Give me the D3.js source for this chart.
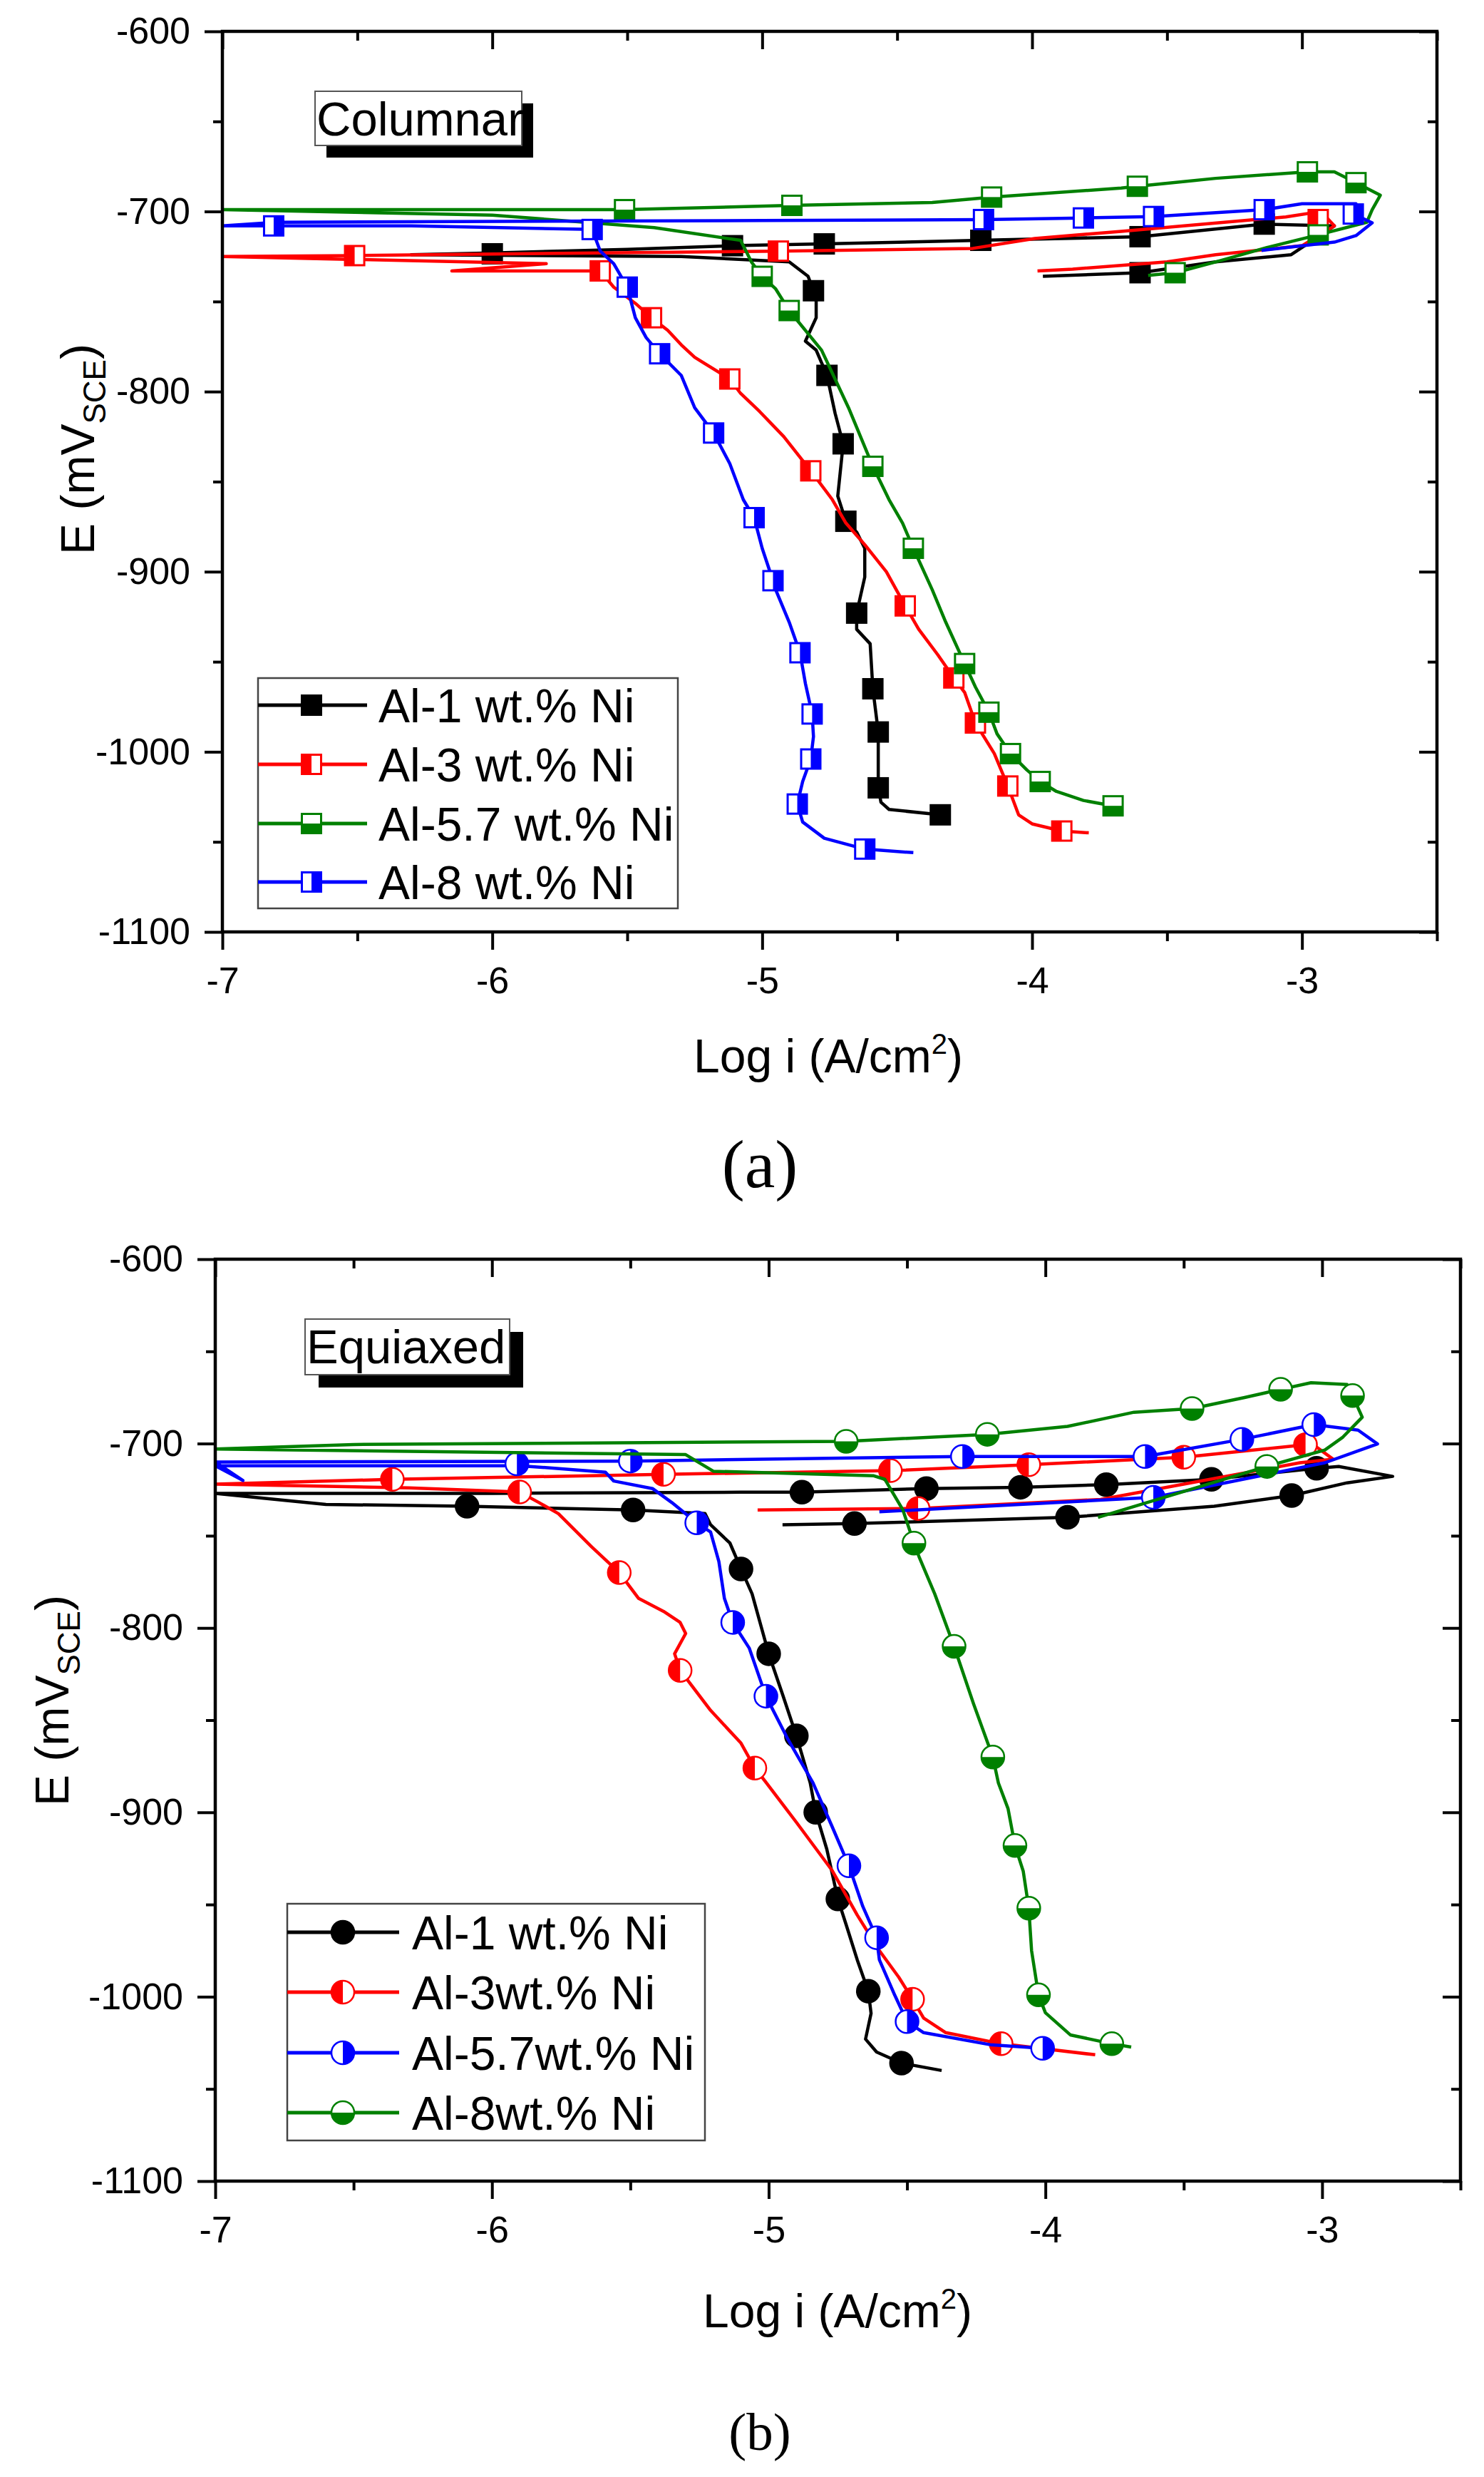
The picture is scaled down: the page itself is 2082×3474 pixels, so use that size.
<!DOCTYPE html>
<html>
<head>
<meta charset="utf-8">
<script src="https://cdn.jsdelivr.net/npm/d3@7"></script>
<style>
  body { margin: 0; background: #fff; }
  svg text { font-family: "Liberation Sans", Arial, sans-serif; fill: #000; }
</style>
</head>
<body>
<div id="fig"></div>
<script>
// ---- shared axis values ----
const xTicks = [-7, -6, -5, -4, -3]
const xMinor = [-6.5, -5.5, -4.5, -3.5, -2.5]
const yTicks = [-600, -700, -800, -900, -1000, -1100]
const yMinor = [-650, -750, -850, -950, -1050]

// ---- (a) Columnar : [log i, E] ----
const colNames = ["Al-1 wt.% Ni", "Al-3 wt.% Ni", "Al-5.7 wt.% Ni", "Al-8 wt.% Ni"]
const colColors = ["#000000", "#ff0000", "#008000", "#0000ff"]
const colFills = ["full", "left", "bottom", "right"]

const colAl1 = [[-4.34,-1035],[-4.53,-1032],[-4.56,-1028],[-4.57,-1020],[-4.57,-1005],[-4.57,-989],[-4.59,-965],[-4.60,-940],[-4.65,-932],[-4.65,-923],[-4.62,-903],[-4.62,-887],[-4.65,-878],[-4.69,-872],[-4.72,-858],[-4.70,-829],[-4.73,-812],[-4.76,-791],[-4.80,-777],[-4.84,-772],[-4.80,-759],[-4.80,-750],[-4.81,-744],[-4.83,-736],[-4.90,-728],[-5.3,-725],[-6.3,-724],[-6.0,-723],[-5.5,-721],[-5.11,-719],[-4.77,-718],[-4.19,-716],[-3.60,-714],[-3.14,-707],[-2.88,-708],[-3.04,-724],[-3.32,-728],[-3.60,-734],[-3.96,-736]]
const colAl1Marks = [[-4.34,-1035],[-4.57,-1020],[-4.57,-989],[-4.59,-965],[-4.65,-923],[-4.69,-872],[-4.70,-829],[-4.76,-791],[-4.81,-744],[-5.11,-719],[-6.0,-723.5],[-4.77,-718],[-4.19,-716],[-3.60,-714],[-3.14,-707],[-3.60,-734]]

const colAl3 = [[-3.79,-1045],[-3.89,-1044],[-4.0,-1040],[-4.05,-1035],[-4.08,-1023],[-4.09,-1019],[-4.14,-1001],[-4.21,-984],[-4.25,-967],[-4.29,-959],[-4.35,-946],[-4.42,-932],[-4.47,-919],[-4.54,-900],[-4.62,-885],[-4.69,-873],[-4.74,-860],[-4.82,-844],[-4.92,-825],[-5.01,-811],[-5.08,-801],[-5.12,-793],[-5.25,-781],[-5.30,-774],[-5.35,-766],[-5.41,-759],[-5.47,-751],[-5.55,-742],[-5.60,-733],[-6.15,-733],[-5.8,-729],[-7.0,-725],[-6.51,-724.5],[-5.6,-723],[-4.94,-722],[-4.22,-720.5],[-3.99,-715],[-3.67,-711],[-3.06,-703],[-2.93,-700],[-2.88,-708],[-3.0,-719],[-3.32,-724],[-3.50,-728],[-3.85,-732],[-3.98,-733]]
const colAl3Marks = [[-3.89,-1044],[-4.09,-1019],[-4.21,-984],[-4.29,-959],[-4.47,-919],[-4.82,-844],[-5.12,-793],[-5.41,-759],[-5.60,-733],[-6.51,-724.5],[-4.94,-722],[-2.94,-704.5]]

const colAl57 = [[-3.70,-1030],[-3.81,-1027],[-3.91,-1022],[-3.97,-1016.5],[-4.02,-1010],[-4.08,-1001],[-4.13,-990],[-4.16,-978],[-4.21,-964],[-4.25,-951],[-4.32,-928],[-4.37,-910],[-4.44,-887],[-4.48,-873],[-4.53,-860],[-4.59,-841.5],[-4.68,-809],[-4.78,-777],[-4.90,-755],[-4.95,-743],[-5.0,-736],[-5.04,-728],[-5.08,-716],[-5.40,-709],[-6.0,-702],[-7.0,-699],[-5.51,-699],[-4.89,-696.6],[-4.37,-695],[-4.15,-692],[-3.67,-687],[-3.61,-686],[-3.32,-681.6],[-2.98,-678],[-2.88,-678],[-2.80,-684],[-2.71,-691],[-2.74,-699],[-2.76,-706],[-2.94,-713],[-3.13,-720],[-3.32,-728],[-3.47,-734],[-3.57,-735.5]]
const colAl57Marks = [[-3.70,-1030],[-3.97,-1016.5],[-4.08,-1001],[-4.16,-978],[-4.25,-951],[-4.44,-887],[-4.59,-841.5],[-4.90,-755],[-5.0,-736],[-5.51,-699],[-4.89,-696.6],[-4.15,-692],[-3.61,-686],[-2.98,-678],[-2.80,-684],[-2.94,-713],[-3.47,-734]]

const colAl8 = [[-4.44,-1056],[-4.62,-1054],[-4.77,-1048],[-4.85,-1039],[-4.87,-1029],[-4.85,-1016.5],[-4.82,-1004],[-4.81,-991.5],[-4.815,-979],[-4.84,-962],[-4.86,-945],[-4.90,-928],[-4.95,-910],[-4.96,-905],[-5.0,-887],[-5.03,-870],[-5.07,-860],[-5.12,-840],[-5.18,-823],[-5.25,-809],[-5.30,-791],[-5.38,-779],[-5.43,-770],[-5.47,-759],[-5.50,-742],[-5.55,-729],[-5.60,-722],[-5.63,-710],[-6.3,-708],[-7.0,-708],[-6.8,-706],[-5.0,-705],[-4.18,-704.5],[-3.81,-703.6],[-3.55,-702.8],[-3.14,-699],[-3.0,-695.7],[-2.80,-695.7],[-2.81,-701.4],[-2.74,-706.3],[-2.80,-713.4],[-2.88,-717],[-3.15,-721.6]]
const colAl8Marks = [[-4.62,-1054],[-4.87,-1029],[-4.82,-1004],[-4.815,-979],[-4.86,-945],[-4.96,-905],[-5.03,-870],[-5.18,-823],[-5.38,-779],[-5.50,-742],[-5.63,-710],[-6.81,-708],[-4.18,-704.5],[-3.81,-703.6],[-3.55,-702.8],[-3.14,-699],[-2.81,-701.4]]

// ---- (b) Equiaxed : [log i, E] ----
const eqNames = ["Al-1 wt.% Ni", "Al-3wt.% Ni", "Al-5.7wt.% Ni", "Al-8wt.% Ni"]
const eqColors = ["#000000", "#ff0000", "#0000ff", "#008000"]
const eqFills = ["full", "left", "right", "bottom"]

const eqAl1 = [[-4.375,-1040],[-4.52,-1036],[-4.61,-1030],[-4.65,-1023],[-4.63,-1009],[-4.64,-997],[-4.68,-980],[-4.72,-961],[-4.75,-947],[-4.79,-920],[-4.83,-900],[-4.85,-884],[-4.90,-858.5],[-4.95,-836],[-5.0,-814],[-5.06,-781.5],[-5.10,-768],[-5.14,-754],[-5.21,-744],[-5.23,-738],[-5.49,-736],[-6.09,-734],[-6.6,-733],[-7.0,-727],[-6.0,-727],[-5.10,-726.4],[-4.88,-726.4],[-4.43,-724.4],[-4.09,-723.7],[-3.78,-722.3],[-3.40,-719.4],[-3.02,-713.4],[-2.94,-712.4],[-2.745,-717.8],[-2.91,-721.3],[-3.11,-728.2],[-3.39,-734],[-3.92,-740],[-4.69,-743.4],[-4.95,-744]]
const eqAl1Marks = [[-4.52,-1036],[-4.64,-997],[-4.75,-947],[-4.83,-900],[-4.90,-858.5],[-5.0,-814],[-5.10,-768],[-5.49,-736],[-6.09,-734],[-4.88,-726.4],[-4.43,-724.4],[-4.09,-723.7],[-3.78,-722.3],[-3.40,-719.4],[-3.02,-713.4],[-3.11,-728.2],[-3.92,-740],[-4.69,-743.4]]

const eqAl3 = [[-3.82,-1031.5],[-4.16,-1025.5],[-4.36,-1019.5],[-4.44,-1011.6],[-4.48,-1001.4],[-4.53,-989.4],[-4.60,-975],[-4.68,-955.7],[-4.77,-931.7],[-4.90,-905.4],[-5.01,-883.7],[-5.05,-876],[-5.10,-862.5],[-5.21,-844.7],[-5.32,-823],[-5.34,-814],[-5.30,-803],[-5.32,-797],[-5.38,-791],[-5.47,-784],[-5.54,-770],[-5.64,-756],[-5.76,-738],[-5.83,-732],[-5.90,-726.3],[-6.3,-724],[-7.0,-722],[-6.36,-719.4],[-5.38,-716.7],[-4.56,-714.7],[-4.06,-711.5],[-3.50,-707.4],[-3.06,-700.6],[-3.05,-698.6],[-2.96,-708.5],[-3.08,-710.4],[-3.80,-730.3],[-4.46,-735.2],[-5.04,-736]]
const eqAl3Marks = [[-4.16,-1025.5],[-4.48,-1001.4],[-5.05,-876],[-5.32,-823],[-5.54,-770],[-5.90,-726.3],[-6.36,-719.4],[-5.38,-716.7],[-4.56,-714.7],[-4.06,-711.5],[-3.50,-707.4],[-3.06,-700.6],[-4.46,-735.2]]

const eqAl57 = [[-4.01,-1028],[-4.20,-1026],[-4.44,-1019.5],[-4.50,-1013.5],[-4.545,-999],[-4.60,-980],[-4.61,-968],[-4.66,-951],[-4.71,-929],[-4.77,-908],[-4.84,-884],[-4.93,-860.5],[-5.01,-837],[-5.07,-811],[-5.13,-797],[-5.16,-784],[-5.18,-764],[-5.21,-748],[-5.26,-743],[-5.35,-732],[-5.42,-724.4],[-5.56,-720.3],[-5.59,-715.5],[-5.9,-712],[-7.0,-712],[-6.9,-720],[-7.0,-710],[-5.5,-709.5],[-4.30,-707],[-3.64,-707],[-3.29,-697.7],[-3.03,-689.7],[-2.87,-692.7],[-2.80,-700.2],[-2.99,-710.4],[-3.61,-729.2],[-4.60,-737]]
const eqAl57Marks = [[-4.01,-1028],[-4.50,-1013.5],[-4.61,-968],[-4.71,-929],[-5.01,-837],[-5.13,-797],[-5.26,-743],[-5.5,-709.5],[-5.91,-711],[-4.30,-707],[-3.64,-707],[-3.29,-697.7],[-3.03,-689.7],[-3.61,-729.2]]

const eqAl8 = [[-3.69,-1027.3],[-3.76,-1025.5],[-3.91,-1020.7],[-4.0,-1008.7],[-4.025,-999],[-4.05,-975],[-4.06,-952],[-4.08,-932],[-4.11,-918],[-4.135,-898],[-4.17,-884],[-4.19,-870],[-4.26,-841],[-4.33,-810],[-4.40,-781.5],[-4.455,-762],[-4.475,-754],[-4.515,-736],[-4.58,-719.4],[-4.62,-717.5],[-5.2,-715],[-5.3,-706],[-7.0,-703],[-6.5,-700.5],[-4.72,-698.8],[-4.21,-695],[-3.92,-690.7],[-3.68,-683],[-3.47,-681],[-3.28,-675],[-3.15,-670.6],[-3.04,-667],[-2.91,-668],[-2.89,-674],[-2.855,-685.7],[-2.925,-696.5],[-2.99,-703.5],[-3.20,-712.4],[-3.81,-740]]
const eqAl8Marks = [[-3.76,-1025.5],[-4.025,-999],[-4.06,-952],[-4.11,-918],[-4.19,-870],[-4.33,-810],[-4.475,-754],[-4.72,-698.8],[-4.21,-695],[-3.47,-681],[-3.15,-670.6],[-2.89,-674],[-3.20,-712.4]]

// ---- drawing ----
const svg = d3.select("#fig").append("svg")
    .attr("width", 2082)
    .attr("height", 3474)
    .style("display", "block")

svg.append("rect").attr("width", 2082).attr("height", 3474).attr("fill", "#fff")

function marker(g, shape, fill, color, cx, cy) {
    if (shape === "square") {
        const s = 27, h = s / 2
        g.append("rect")
            .attr("x", cx - h).attr("y", cy - h).attr("width", s).attr("height", s)
            .attr("fill", "#fff").attr("stroke", color).attr("stroke-width", 3)
        let r
        if (fill === "full") r = [cx - h, cy - h, s, s]
        if (fill === "left") r = [cx - h, cy - h, h, s]
        if (fill === "right") r = [cx, cy - h, h, s]
        if (fill === "bottom") r = [cx - h, cy, s, h]
        g.append("rect").attr("x", r[0]).attr("y", r[1]).attr("width", r[2]).attr("height", r[3])
            .attr("fill", color)
    } else {
        const r = 16
        g.append("circle").attr("cx", cx).attr("cy", cy).attr("r", r)
            .attr("fill", "#fff").attr("stroke", color).attr("stroke-width", 2.5)
        let d
        if (fill === "full") d = `M${cx - r},${cy}A${r},${r} 0 1 1 ${cx + r},${cy}A${r},${r} 0 1 1 ${cx - r},${cy}Z`
        if (fill === "left") d = `M${cx},${cy - r}A${r},${r} 0 0 0 ${cx},${cy + r}Z`
        if (fill === "right") d = `M${cx},${cy - r}A${r},${r} 0 0 1 ${cx},${cy + r}Z`
        if (fill === "bottom") d = `M${cx - r},${cy}A${r},${r} 0 0 0 ${cx + r},${cy}Z`
        g.append("path").attr("d", d).attr("fill", color)
    }
}

function drawPanel(o) {
    const x = d3.scaleLinear().domain([-7, -2.5]).range([o.left, o.right])
    const y = d3.scaleLinear().domain([-1100, -600]).range([o.bottom, o.top])
    const g = svg.append("g")

    const clipId = "clip" + o.id
    svg.append("clipPath").attr("id", clipId)
        .append("rect").attr("x", o.left).attr("y", o.top)
        .attr("width", o.right - o.left).attr("height", o.bottom - o.top)

    const line = d3.line().x(d => x(d[0])).y(d => y(d[1]))
    const plot = g.append("g").attr("clip-path", `url(#${clipId})`)
    o.lines.forEach((pts, i) => {
        plot.append("path")
            .attr("d", line(pts))
            .attr("fill", "none")
            .attr("stroke", o.colors[i])
            .attr("stroke-width", 4.5)
            .attr("stroke-linejoin", "round")
        o.marks[i].forEach(p => marker(plot, o.shape, o.fills[i], o.colors[i], x(p[0]), y(p[1])))
    })

    // axes, all four sides
    const maj = 25, mnr = 13
    const fmt = d => String(d)
    const styleAxis = sel => {
        sel.select(".domain").remove()
        sel.selectAll(".tick line").attr("stroke", "#000").attr("stroke-width", 4)
        sel.selectAll("text").attr("font-size", 52).attr("font-family", null).attr("fill", "#000")
        sel.attr("font-family", null).attr("font-size", null)
    }
    g.append("g").attr("transform", `translate(0,${o.bottom})`)
        .call(d3.axisBottom(x).tickValues(xTicks).tickSize(maj).tickPadding(24).tickFormat(fmt)).call(styleAxis)
    g.append("g").attr("transform", `translate(0,${o.bottom})`)
        .call(d3.axisBottom(x).tickValues(xMinor).tickSize(mnr).tickFormat("")).call(styleAxis)
    g.append("g").attr("transform", `translate(0,${o.top})`)
        .call(d3.axisTop(x).tickValues(xTicks).tickSize(-maj).tickFormat("")).call(styleAxis)
    g.append("g").attr("transform", `translate(0,${o.top})`)
        .call(d3.axisTop(x).tickValues(xMinor).tickSize(-mnr).tickFormat("")).call(styleAxis)
    g.append("g").attr("transform", `translate(${o.left},0)`)
        .call(d3.axisLeft(y).tickValues(yTicks).tickSize(maj).tickPadding(20).tickFormat(fmt)).call(styleAxis)
    g.append("g").attr("transform", `translate(${o.left},0)`)
        .call(d3.axisLeft(y).tickValues(yMinor).tickSize(mnr).tickFormat("")).call(styleAxis)
    g.append("g").attr("transform", `translate(${o.right},0)`)
        .call(d3.axisRight(y).tickValues(yTicks).tickSize(-maj).tickFormat("")).call(styleAxis)
    g.append("g").attr("transform", `translate(${o.right},0)`)
        .call(d3.axisRight(y).tickValues(yMinor).tickSize(-mnr).tickFormat("")).call(styleAxis)

    g.append("rect")
        .attr("x", o.left).attr("y", o.top)
        .attr("width", o.right - o.left).attr("height", o.bottom - o.top)
        .attr("fill", "none").attr("stroke", "#000").attr("stroke-width", 4.5)

    // axis titles
    const xt = g.append("text")
        .attr("x", o.xTitle[0]).attr("y", o.xTitle[1])
        .attr("text-anchor", "middle").attr("font-size", 66)
    xt.append("tspan").text("Log i (A/cm")
    xt.append("tspan").attr("dy", -26).attr("font-size", 40).text("2")
    xt.append("tspan").attr("dy", 26).text(")")

    const yt = g.append("text")
        .attr("transform", `translate(${o.yTitle[0]},${o.yTitle[1]}) rotate(-90)`)
        .attr("text-anchor", "middle").attr("font-size", 66)
    yt.append("tspan").text("E (mV")
    yt.append("tspan").attr("dy", 16).attr("font-size", 44).text("SCE")
    yt.append("tspan").attr("dy", -16).text(")")

    // label box with shadow
    const b = o.labelBox
    g.append("rect").attr("x", b[0] + b[4]).attr("y", b[1] + b[5]).attr("width", b[2]).attr("height", b[3]).attr("fill", "#000")
    g.append("rect").attr("x", b[0]).attr("y", b[1]).attr("width", b[2]).attr("height", b[3])
        .attr("fill", "#fff").attr("stroke", "#555").attr("stroke-width", 2)
    g.append("text").attr("x", b[0] + 2).attr("y", b[1] + 62).attr("font-size", 67).text(o.label)

    // legend
    const L = o.legend
    g.append("rect").attr("x", L.x).attr("y", L.y).attr("width", L.w).attr("height", L.h)
        .attr("fill", "#fff").attr("stroke", "#444").attr("stroke-width", 2.5)
    o.names.forEach((name, i) => {
        const yy = L.rows[i]
        g.append("line").attr("x1", L.x).attr("x2", L.lineEnd).attr("y1", yy).attr("y2", yy)
            .attr("stroke", o.colors[i]).attr("stroke-width", 5)
        marker(g, o.shape, o.fills[i], o.colors[i], L.mx, yy)
        g.append("text").attr("x", L.tx).attr("y", yy + 24).attr("font-size", 66).text(name)
    })

    // panel caption
    g.append("text").attr("x", 1066).attr("y", o.cap[1])
        .attr("text-anchor", "middle")
        .style("font-family", '"Liberation Serif", "Times New Roman", serif')
        .attr("font-size", o.cap[2]).text(o.cap[0])
}

drawPanel({
    id: "a", left: 312, right: 2016, top: 44, bottom: 1307,
    lines: [colAl1, colAl3, colAl57, colAl8],
    marks: [colAl1Marks, colAl3Marks, colAl57Marks, colAl8Marks],
    colors: colColors, fills: colFills, names: colNames, shape: "square",
    xTitle: [1162, 1504], yTitle: [132, 630],
    labelBox: [442, 128, 290, 76, 16, 17], label: "Columnar",
    legend: { x: 362, y: 951, w: 589, h: 323, rows: [989, 1072, 1155, 1237], lineEnd: 515, mx: 437, tx: 531 },
    cap: ["(a)", 1665, 96]
})

drawPanel({
    id: "b", left: 302, right: 2049, top: 1766, bottom: 3059,
    lines: [eqAl1, eqAl3, eqAl57, eqAl8],
    marks: [eqAl1Marks, eqAl3Marks, eqAl57Marks, eqAl8Marks],
    colors: eqColors, fills: eqFills, names: eqNames, shape: "circle",
    xTitle: [1175, 3264], yTitle: [96, 2385],
    labelBox: [428, 1850, 287, 78, 19, 18], label: "Equiaxed",
    legend: { x: 403, y: 2670, w: 586, h: 332, rows: [2710, 2794, 2879, 2963], lineEnd: 560, mx: 481, tx: 578 },
    cap: ["(b)", 3436, 75]
})
</script>
</body>
</html>
